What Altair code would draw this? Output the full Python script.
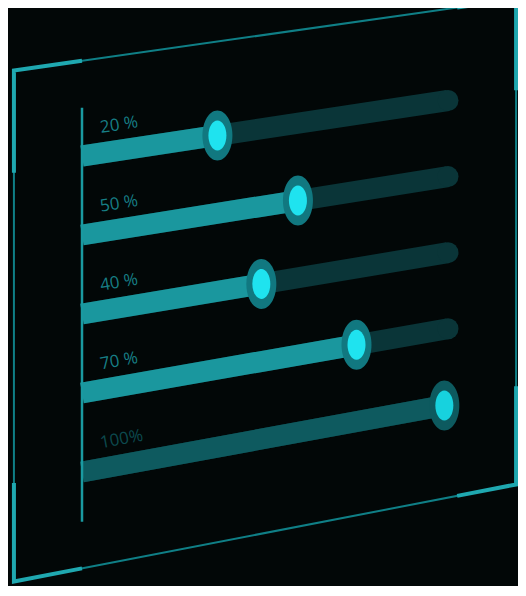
import altair as alt
import pandas as pd

# ---- data ----
labels = ["20 %", "50 %", "40 %", "70 %", "100%"]
values = [37, 59, 49, 75, 99]      # knob position along each track (track runs 0..100)
track_end = 100

# ---- layout / perspective constants ----
W, H = 510, 578
X0, XS = 74.0, 3.66     # pixel of f=0, pixels per unit along the track
Y0, YS = 148.0, 79.0    # pixel of row 0 at f=0, pixels per row
K0, K1 = -0.7025, -0.037  # perspective skew

XDOM = [-X0 / XS, (W - X0) / XS]
YDOM = [-Y0 / YS, (H - Y0) / YS]

F_L, F_R = -18.6, 118.6
R_T, R_B = -1.205, 5.22

BG = "#020707"
ELL = "M0,-1A0.6,1,0,1,1,0,1A0.6,1,0,1,1,0,-1Z"


def yp(r="datum.r", f="datum.f"):
    return f"({r}) + (({f}) / 100) * ({K0} + {K1} * ({r}))"


xenc = alt.X("f:Q", scale=alt.Scale(domain=XDOM, nice=False, zero=False), axis=None)
yenc = alt.Y("yp:Q", scale=alt.Scale(domain=YDOM, nice=False, zero=False, reverse=True), axis=None)

n = len(labels)
rows_df = pd.DataFrame({"r": list(range(n)), "label": labels, "value": values,
                        "end": [track_end] * n})
track_df = pd.DataFrame([{"r": i, "f": f} for i in range(n) for f in (0, track_end)])
fill_df = pd.DataFrame([{"r": i, "f": f} for i, v in enumerate(values) for f in (0, v)])

frame_df = pd.DataFrame({"i": list(range(5)),
                         "f": [F_L, F_R, F_R, F_L, F_L],
                         "r": [R_T, R_T, R_B, R_B, R_T]})
acc_pts = [
    [(0, R_T), (F_L, R_T), (F_L, 0.08)],
    [(102.5, R_T), (F_R, R_T), (F_R, 0.0)],
    [(F_R, 3.92), (F_R, R_B), (102.5, R_B)],
    [(F_L, 3.98), (F_L, R_B), (0, R_B)],
]
acc_df = pd.DataFrame([{"seg": s, "i": k, "f": p[0], "r": p[1]}
                       for s, pts in enumerate(acc_pts) for k, p in enumerate(pts)])
axis_df = pd.DataFrame({"i": [0, 1], "f": [0, 0], "r": [-0.61, 4.63]})

frame_line = alt.Chart(frame_df).transform_calculate(yp=yp()).mark_line(
    color="#0f7f86", strokeWidth=2).encode(x=xenc, y=yenc, order="i:Q")

accent = alt.Chart(acc_df).transform_calculate(yp=yp()).mark_line(
    color="#1fa8b0", strokeWidth=4, strokeJoin="miter", strokeCap="butt"
).encode(x=xenc, y=yenc, detail="seg:N", order="i:Q")

tracks = alt.Chart(track_df).transform_calculate(yp=yp()).mark_line(
    color="#0a3538", strokeWidth=21, strokeCap="butt"
).encode(x=xenc, y=yenc, detail="r:N")

caps = alt.Chart(rows_df).transform_calculate(f="datum.end").transform_calculate(
    yp=yp()).mark_point(shape="circle", filled=True, size=441, opacity=1,
                        color="#0a3538").encode(x=xenc, y=yenc)

fills = alt.Chart(fill_df).transform_calculate(
    yp=yp(), col="datum.r == 4 ? '#0e5a5f' : '#1a979e'"
).mark_line(strokeWidth=21, strokeCap="butt").encode(
    x=xenc, y=yenc, detail="r:N", color=alt.Color("col:N", scale=None))

axis_line = alt.Chart(axis_df).transform_calculate(yp=yp()).mark_line(
    color="#1a9aa1", strokeWidth=2.5).encode(x=xenc, y=yenc, order="i:Q")

knob_base = alt.Chart(rows_df).transform_calculate(f="datum.value").transform_calculate(
    yp=yp(),
    ring="datum.r == 4 ? '#0d5a5f' : '#117880'",
    core="datum.r == 4 ? '#17d2de' : '#1fe3ef'")

ring = knob_base.mark_point(shape=ELL, filled=True, size=2500, opacity=1).encode(
    x=xenc, y=yenc, color=alt.Color("ring:N", scale=None))
core = knob_base.mark_point(shape=ELL, filled=True, size=900, opacity=1).encode(
    x=xenc, y=yenc, color=alt.Color("core:N", scale=None))

text = alt.Chart(rows_df).transform_calculate(f="5").transform_calculate(
    yp=yp(r="datum.r - 0.32"),
    ang=f"360 + atan({YS} * ({K0} + {K1} * datum.r) / (100 * {XS})) * 180 / PI",
    tc="datum.r == 4 ? '#0c4a4e' : '#177f86'"
).mark_text(align="left", baseline="middle", font="Open Sans", fontSize=17).encode(
    x=xenc, y=yenc, text="label:N",
    angle=alt.Angle("ang:Q", scale=None),
    color=alt.Color("tc:N", scale=None))

chart = alt.layer(frame_line, accent, tracks, caps, fills, axis_line, ring, core, text).properties(
    width=W, height=H, background=BG, padding=0, autosize="none"
).configure_view(stroke=None)

chart.save("out.html", embed_options={"renderer": "svg", "actions": False})
